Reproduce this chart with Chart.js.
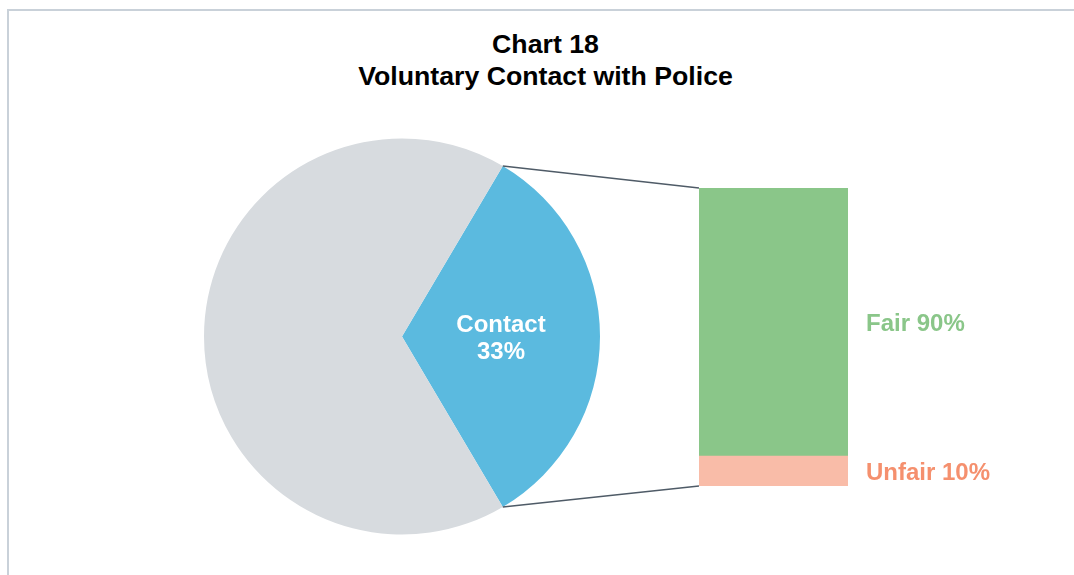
<!DOCTYPE html>
<html>
<head>
<meta charset="utf-8">
<script src="https://cdn.jsdelivr.net/npm/chart.js@4.4.1/dist/chart.umd.min.js"></script>
<style>
  body { margin: 0; background: #fff; }
  #wrap { position: relative; width: 1074px; height: 575px; overflow: hidden; }
  #frame { position: absolute; left: 7px; top: 9px; width: 1100px; height: 600px;
           border-left: 2px solid #c9d1d9; border-top: 2px solid #c9d1d9; }
  #title { position: absolute; left: 0; top: 28px; width: 1091px; text-align: center;
           font: bold 26.7px/32px 'Liberation Sans', Arial, sans-serif; color: #000; }
  canvas { position: absolute; left: 0; top: 0; }
</style>
</head>
<body>
<div id="wrap">
  <div id="frame"></div>
  <div id="title"></div>
  <canvas id="pieChart" width="1074" height="575"></canvas>
  <canvas id="barChart" width="1074" height="575"></canvas>
</div>
<script>
const pieLabels = ['Contact', 'No contact']
const pieValues = [33, 67]
const pieColors = ['#5bbadf', '#d7dbdf']

const barLabels = ['Unfair', 'Fair']
const barValues = [10, 90]
const barColors = ['#f9bca8', '#8ac689']
const barTextColors = ['#f5906e', '#8ac689']

const titleLines = ['Chart 18', 'Voluntary Contact with Police']
const font = 'Liberation Sans, Arial, sans-serif'

document.getElementById('title').innerHTML = titleLines.join('<br>')

// contact slice centred on the right-hand side
const contactShare = pieValues[0] / (pieValues[0] + pieValues[1])
const rotation = 90 - contactShare * 180

const pieLabelPlugin = {
  id: 'pieLabel',
  afterDatasetsDraw(chart) {
    const arc = chart.getDatasetMeta(0).data[0]
    const pos = arc.tooltipPosition()
    const ctx = chart.ctx
    ctx.save()
    ctx.fillStyle = '#fff'
    ctx.font = 'bold 24px ' + font
    ctx.textAlign = 'center'
    ctx.textBaseline = 'middle'
    ctx.fillText(pieLabels[0], pos.x, pos.y - 11)
    ctx.fillText(pieValues[0] + '%', pos.x, pos.y + 16)
    ctx.restore()
  }
}

const pieChart = new Chart(document.getElementById('pieChart'), {
  type: 'pie',
  data: {
    labels: pieLabels,
    datasets: [{
      data: pieValues,
      backgroundColor: pieColors,
      borderWidth: 0
    }]
  },
  options: {
    responsive: false,
    animation: false,
    events: [],
    rotation: rotation,
    layout: {
      padding: { left: 204, right: 474, top: 138, bottom: 40 }
    },
    plugins: {
      legend: { display: false },
      tooltip: { enabled: false }
    }
  },
  plugins: [pieLabelPlugin]
})

// lines from the contact slice to the bar, plus the bar labels
const connectorPlugin = {
  id: 'connector',
  afterDatasetsDraw(chart) {
    const ctx = chart.ctx
    const arc = pieChart.getDatasetMeta(0).data[0]
    const bottomBar = chart.getDatasetMeta(0).data[0]
    const topBar = chart.getDatasetMeta(1).data[0]
    const left = topBar.x - topBar.width / 2

    ctx.save()
    ctx.strokeStyle = '#4f5b67'
    ctx.lineWidth = 1.5
    ctx.beginPath()
    ctx.moveTo(arc.x + arc.outerRadius * Math.cos(arc.startAngle), arc.y + arc.outerRadius * Math.sin(arc.startAngle))
    ctx.lineTo(left, topBar.y)
    ctx.moveTo(arc.x + arc.outerRadius * Math.cos(arc.endAngle), arc.y + arc.outerRadius * Math.sin(arc.endAngle))
    ctx.lineTo(left, bottomBar.base)
    ctx.stroke()

    ctx.font = 'bold 24px ' + font
    ctx.textAlign = 'left'
    ctx.textBaseline = 'middle'
    chart.data.datasets.forEach((ds, i) => {
      const bar = chart.getDatasetMeta(i).data[0]
      ctx.fillStyle = barTextColors[i]
      ctx.fillText(barLabels[i] + ' ' + barValues[i] + '%', chart.chartArea.right + 18, (bar.y + bar.base) / 2 + 2)
    })
    ctx.restore()
  }
}

const barChart = new Chart(document.getElementById('barChart'), {
  type: 'bar',
  data: {
    labels: [''],
    datasets: barLabels.map((label, i) => ({
      label: label,
      data: [barValues[i]],
      backgroundColor: barColors[i],
      borderWidth: 0,
      barPercentage: 1,
      categoryPercentage: 1
    }))
  },
  options: {
    responsive: false,
    animation: false,
    events: [],
    layout: {
      padding: { left: 699, right: 226, top: 188, bottom: 89 }
    },
    scales: {
      x: { stacked: true, display: false },
      y: { stacked: true, display: false, min: 0, max: 100 }
    },
    plugins: {
      legend: { display: false },
      tooltip: { enabled: false }
    }
  },
  plugins: [connectorPlugin]
})
</script>
</body>
</html>
